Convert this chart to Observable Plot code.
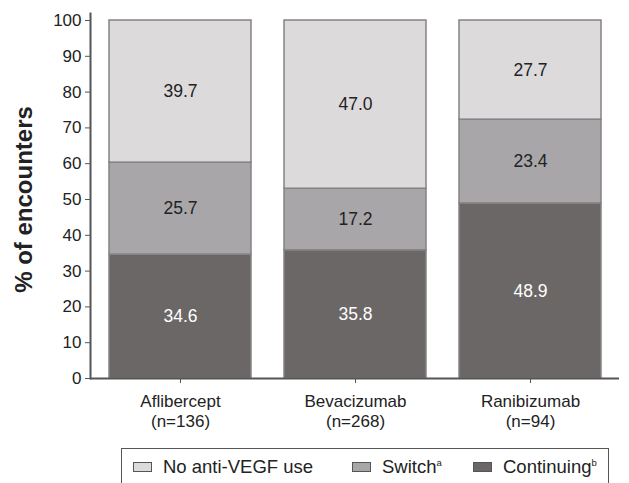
<!DOCTYPE html>
<html><head><meta charset="utf-8">
<script src="https://cdn.jsdelivr.net/npm/d3@7"></script>
<script src="https://cdn.jsdelivr.net/npm/@observablehq/plot@0.6"></script>
<style>
body{margin:0;background:#fff;font-family:"Liberation Sans",Arial,sans-serif;}
#wrap{position:relative;width:629px;height:483px;overflow:hidden;}
#legend{position:absolute;left:121px;top:448px;width:488px;height:42px;border:1.5px solid #555;box-sizing:border-box;font-size:18.5px;color:#222;}
.item{position:absolute;top:7px;display:flex;align-items:center;white-space:nowrap;line-height:21px;}
.sw{width:19px;height:10px;border:1.5px solid #555;box-sizing:border-box;margin-right:11px;}
sup{font-size:9.5px;vertical-align:7px;line-height:0;}
</style>
</head><body><div id="wrap"><div id="chart"></div><div id="legend"></div></div>
<script>
const drugs = ["Aflibercept", "Bevacizumab", "Ranibizumab"];
const sampleSizes = ["(n=136)", "(n=268)", "(n=94)"];
const series = ["Continuing", "Switch", "No anti-VEGF use"];
const continuing = [34.6, 35.8, 48.9];
const switched = [25.7, 17.2, 23.4];
const noUse = [39.7, 47.0, 27.7];
const yTicks = [0, 10, 20, 30, 40, 50, 60, 70, 80, 90, 100];
const fills = ["#6a6766", "#a9a6a9", "#dcdadb"];
const textFills = ["#ffffff", "#222222", "#222222"];
const legendSup = {"Continuing": "b", "Switch": "a", "No anti-VEGF use": ""};

const values = [continuing, switched, noUse];
const data = [];
series.forEach((s, si) => drugs.forEach((d, di) => data.push({drug: d, series: s, value: values[si][di], si})));

const chart = Plot.plot({
  width: 629,
  height: 440,
  marginLeft: 90,
  marginRight: 10,
  marginTop: 20,
  marginBottom: 62,
  style: {fontFamily: "'Liberation Sans', Arial, sans-serif", background: "#fff"},
  x: {domain: drugs, paddingInner: 0.19, paddingOuter: 0.1, label: null},
  y: {domain: [0, 100], label: null},
  color: {domain: series, range: fills},
  marks: [
    Plot.barY(data, Plot.stackY({x: "drug", y: "value", fill: "series", order: series, stroke: "#858283", strokeWidth: 1.5})),
    Plot.text(data, Plot.stackY({x: "drug", y: "value", z: "series", order: series, text: d => d.value.toFixed(1),
      fill: d => textFills[d.si], fontSize: 17.5})),
    Plot.ruleY([0], {stroke: "#555", strokeWidth: 2}),
    Plot.frame({anchor: "left", stroke: "#555", strokeWidth: 2, insetTop: -7}),
    Plot.axisY({ticks: yTicks, tickSize: 5, tickPadding: 4, fontSize: 17, stroke: "#555", color: "#222", label: null}),
    Plot.axisX({tickSize: 5, tickPadding: 9, fontSize: 17, lineHeight: 1.18, color: "#222", stroke: "#555", label: null,
      tickFormat: (d) => d + "\n" + sampleSizes[drugs.indexOf(d)]}),
    Plot.text(["% of encounters"], {frameAnchor: "left", textAnchor: "middle", rotate: -90, dx: -66, fontWeight: "bold", fontSize: 24, fill: "#222"})
  ]
});
document.getElementById("chart").appendChild(chart);

const legend = document.getElementById("legend");
const lefts = {"No anti-VEGF use": 11, "Switch": 230, "Continuing": 351};
[...series].reverse().forEach(s => {
  const it = document.createElement("div");
  it.className = "item";
  it.style.left = lefts[s] + "px";
  const sw = document.createElement("div");
  sw.className = "sw";
  sw.style.background = fills[series.indexOf(s)];
  it.appendChild(sw);
  const t = document.createElement("span");
  t.innerHTML = s + (legendSup[s] ? "<sup>" + legendSup[s] + "</sup>" : "");
  it.appendChild(t);
  legend.appendChild(it);
});
</script>
</body></html>
